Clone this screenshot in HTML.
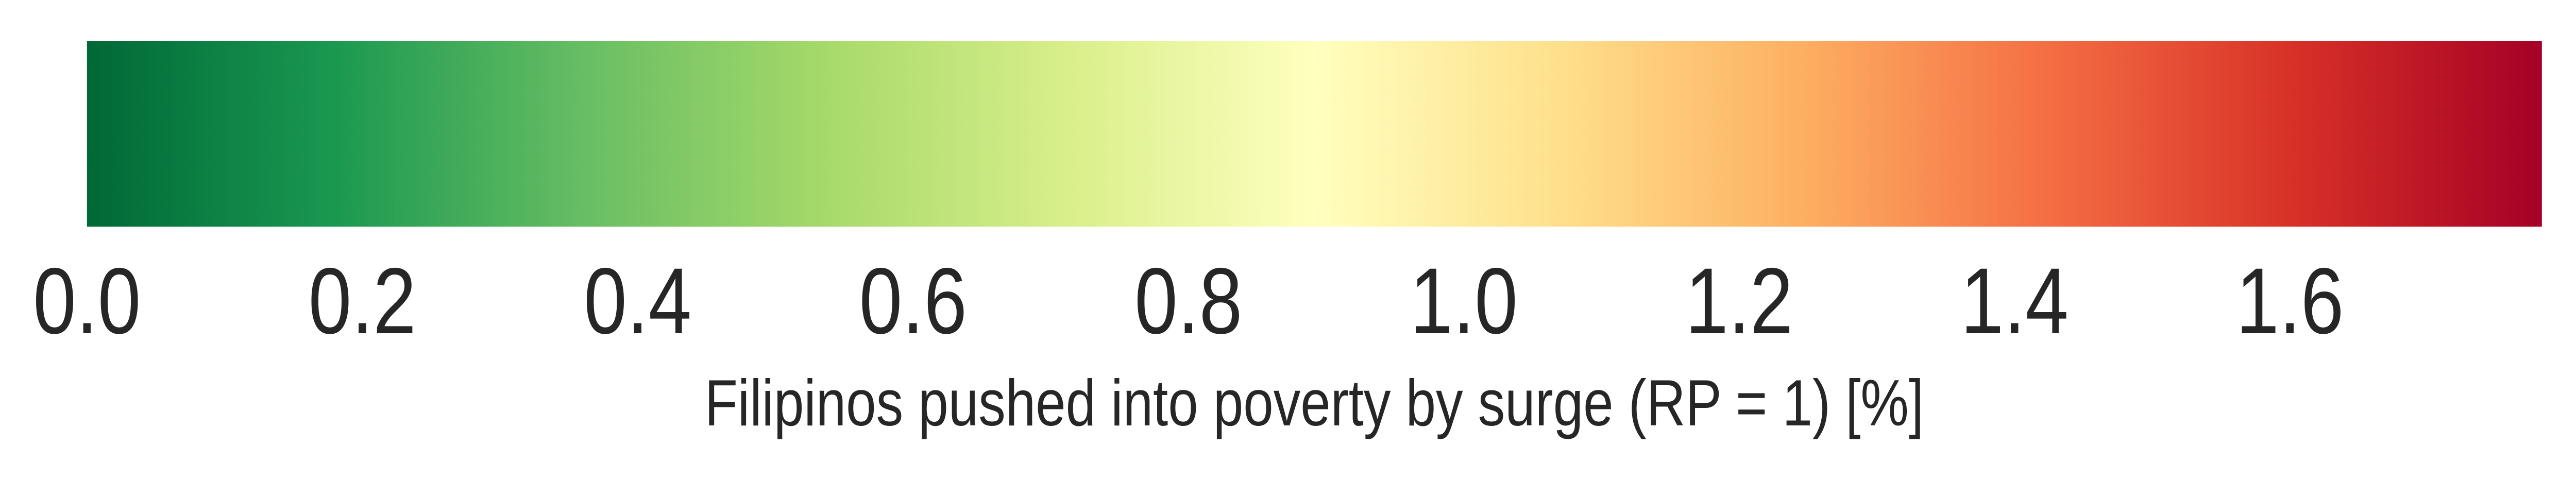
<!DOCTYPE html>
<html><head><meta charset="utf-8"><style>
html,body{margin:0;padding:0;background:#fff;width:100%;height:100%;overflow:hidden}
svg{display:block;width:100vw;height:100vh}
</style></head><body>
<svg id="chart" viewBox="0 0 6043 932" preserveAspectRatio="none" xmlns="http://www.w3.org/2000/svg">
<defs>
<linearGradient id="grad" x1="0" x2="1" y1="0" y2="0"></linearGradient>
</defs>
<rect id="bar" x="204" y="80" width="5759" height="360" fill="url(#grad)"/>
<g id="ticks"></g>
<text x="3083" y="826" text-anchor="middle" font-family="Liberation Sans, sans-serif" font-size="127" fill="#262626">Filipinos pushed into poverty by surge (RP = 1) [%]</text>
</svg>
<script>
const vmin = 0;
const vmax = 1.783;
const tickValues = [0.0, 0.2, 0.4, 0.6, 0.8, 1.0, 1.2, 1.4, 1.6];
const tickLabels = ["0.0","0.2","0.4","0.6","0.8","1.0","1.2","1.4","1.6"];
const colorStops = ["#006837","#1a9850","#66bd63","#a6d96a","#d9ef8b","#ffffbf","#fee08b","#fdae61","#f46d43","#d73027","#a50026"];

const NS = "http://www.w3.org/2000/svg";
const x0 = 204, x1 = 5963;
function xScale(v){ return x0 + (v - vmin) / (vmax - vmin) * (x1 - x0); }

const grad = document.getElementById('grad');
colorStops.forEach((c, i) => {
  const s = document.createElementNS(NS, 'stop');
  s.setAttribute('offset', (i / (colorStops.length - 1)).toString());
  s.setAttribute('stop-color', c);
  grad.appendChild(s);
});

const g = document.getElementById('ticks');
tickValues.forEach((v, i) => {
  const t = document.createElementNS(NS, 'text');
  
  
  t.setAttribute('x', xScale(v));
  t.setAttribute('y', 647);
  t.setAttribute('text-anchor', 'middle');
  t.setAttribute('font-family', 'Liberation Sans, sans-serif');
  t.setAttribute('font-size', '182');
  t.setAttribute('fill', '#262626');
  t.textContent = tickLabels[i];
  g.appendChild(t);
});
</script>
</body></html>
